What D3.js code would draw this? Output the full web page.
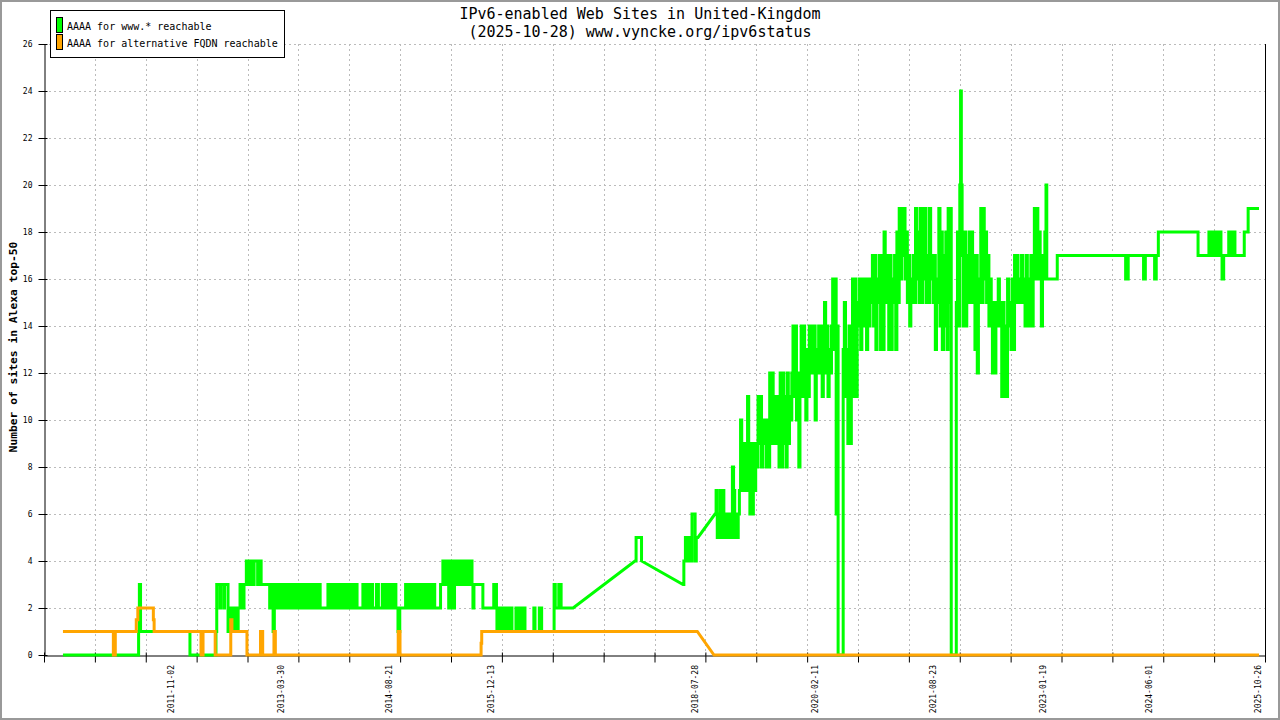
<!DOCTYPE html>
<html>
<head>
<meta charset="utf-8">
<script src="https://cdn.jsdelivr.net/npm/d3@7"></script>
<style>
body { margin: 0; background: #fff; }
text { font-family: "DejaVu Sans Mono", "Liberation Mono", monospace; fill: #000; }
</style>
</head>
<body>
<div id="chart"></div>
<script>
var width = 1280, height = 720;
var plotLeft = 44, plotRight = 1265, plotTop = 44, plotBottom = 655;

var titleLines = ["IPv6-enabled Web Sites in United-Kingdom", "(2025-10-28) www.vyncke.org/ipv6status"];
var yLabel = "Number of sites in Alexa top-50";
var seriesNames = ["AAAA for www.* reachable", "AAAA for alternative FQDN reachable"];
var seriesColors = ["#00ff00", "#ffa500"];

// x range in decimal years, 24 grid steps between the ends
var xDomainYears = [2010.197, 2025.907];
var xGridSteps = 24;
var xLabelDates = ["2011-11-02", "2013-03-30", "2014-08-21", "2015-12-13", "2018-07-28",
                   "2020-02-11", "2021-08-23", "2023-01-19", "2024-06-01", "2025-10-26"];
var yTickValues = [0, 2, 4, 6, 8, 10, 12, 14, 16, 18, 20, 22, 24, 26];

// AAAA for www.* reachable  [decimal year, sites]
var wwwSeries = [
  [2010.441,0],[2011.400,0],[2011.415,1],[2011.425,3],[2011.440,1],[2012.063,1],[2012.076,0],[2012.397,0],
  [2012.410,1],[2012.420,3],[2012.445,3],[2012.460,2],[2012.470,3],[2012.500,3],[2012.510,2],[2012.520,3],
  [2012.550,3],[2012.565,1],[2012.580,2],[2012.590,1],[2012.605,2],[2012.620,1],[2012.635,2],[2012.650,1],
  [2012.665,2],[2012.680,1],[2012.695,2],[2012.710,2],[2012.719,3],[2012.740,3],[2012.755,2],[2012.770,3],
  [2012.790,3],[2012.800,4],[2012.820,4],[2012.835,3],[2012.850,4],[2012.870,4],[2012.885,3],[2012.900,4],
  [2012.930,4],[2012.945,3],[2012.960,4],[2012.980,4],[2012.990,3],[2013.054,3],
  [2013.075,3],[2013.100,2],[2013.125,3],[2013.144,1],[2013.160,2],[2013.175,3],[2013.200,2],[2013.225,3],
  [2013.250,2],[2013.275,3],[2013.300,2],[2013.325,3],[2013.350,2],[2013.375,3],[2013.400,2],[2013.425,3],
  [2013.450,2],[2013.475,3],[2013.500,2],[2013.525,3],[2013.550,2],[2013.575,3],[2013.600,2],[2013.625,3],
  [2013.650,2],[2013.675,3],[2013.700,2],[2013.725,3],[2013.750,2],[2013.775,2],[2013.800,2],[2013.825,2],
  [2013.850,3],[2013.875,2],[2013.900,3],[2013.925,2],[2013.950,3],[2013.975,2],[2014.000,3],[2014.025,2],
  [2014.050,3],[2014.075,2],[2014.100,3],[2014.125,2],[2014.150,3],[2014.175,2],[2014.200,3],[2014.225,2],
  [2014.250,2],[2014.275,2],[2014.300,3],[2014.325,2],[2014.350,3],[2014.375,2],[2014.400,3],[2014.425,2],
  [2014.450,2],[2014.475,3],[2014.500,2],[2014.525,2],[2014.550,3],[2014.575,2],[2014.600,3],[2014.625,2],
  [2014.650,3],[2014.675,2],[2014.700,3],[2014.725,2],[2014.752,1],[2014.775,2],[2014.800,2],[2014.825,2],
  [2014.850,3],[2014.875,2],[2014.900,3],[2014.925,2],[2014.950,3],[2014.975,2],[2015.000,3],[2015.025,2],
  [2015.050,3],[2015.075,2],[2015.100,3],[2015.125,2],[2015.150,3],[2015.175,2],[2015.200,3],[2015.225,2],
  [2015.250,2],[2015.275,2],[2015.300,3],
  [2015.330,4],[2015.355,3],[2015.380,4],[2015.405,2],[2015.430,4],[2015.455,2],[2015.480,4],[2015.505,3],
  [2015.530,4],[2015.555,3],[2015.580,4],[2015.605,3],[2015.630,4],[2015.655,3],[2015.680,4],[2015.705,3],
  [2015.717,2],[2015.730,3],[2015.833,3],[2015.845,2],[2015.974,2],[2015.985,3],[2016.010,3],[2016.020,2],
  [2016.026,1],[2016.045,2],[2016.070,1],[2016.095,2],[2016.120,1],[2016.145,2],[2016.170,1],[2016.195,2],
  [2016.219,1],[2016.257,1],[2016.270,2],[2016.295,1],[2016.320,2],[2016.345,1],[2016.370,2],[2016.386,1],
  [2016.489,1],[2016.500,2],[2016.515,1],[2016.560,1],[2016.570,2],[2016.590,2],[2016.600,1],[2016.643,1],
  [2016.746,1],[2016.760,3],[2016.775,2],[2016.810,2],[2016.820,3],[2016.835,2],[2016.840,3],[2016.850,2],
  [2017.004,2],[2017.801,4],[2017.815,5],[2017.870,5],[2017.885,4],[2018.419,3],[2018.430,4],[2018.450,5],
  [2018.470,4],[2018.490,5],[2018.510,4],[2018.535,6],[2018.560,6],[2018.575,4],[2018.590,5],[2018.612,5],
  [2018.831,6],[2018.845,7],[2018.860,5],[2018.875,6],[2018.890,5],[2018.900,7],[2018.915,5],[2018.930,7],
  [2018.945,5],[2018.960,6],[2018.975,5],[2018.990,6],[2019.005,5],[2019.020,6],[2019.040,5],[2019.055,8],
  [2019.070,7],[2019.085,5],[2019.100,6],[2019.115,5],[2019.130,6],[2019.145,7],[2019.160,10],[2019.175,7],
  [2019.190,9],[2019.205,7],[2019.220,9],[2019.235,7],[2019.250,11],[2019.265,8],[2019.280,6],[2019.295,9],
  [2019.310,6],[2019.325,9],[2019.340,7],[2019.355,9],[2019.370,8],[2019.385,11],[2019.400,9],[2019.415,11],
  [2019.430,8],[2019.445,10],[2019.460,9],[2019.475,10],[2019.490,8],[2019.505,10],[2019.520,8],[2019.535,12],
  [2019.550,9],[2019.565,12],[2019.580,10],[2019.595,9],[2019.610,11],[2019.625,9],[2019.640,11],[2019.655,8],
  [2019.670,12],[2019.685,8],[2019.700,12],[2019.715,9],[2019.730,11],[2019.745,8],[2019.760,12],[2019.775,9],
  [2019.790,11],[2019.805,10],[2019.820,12],[2019.835,14],[2019.850,11],[2019.865,14],[2019.880,10],[2019.895,12],
  [2019.910,8],[2019.925,11],[2019.940,14],[2019.955,11],[2019.970,14],[2019.985,12],[2020.000,10],[2020.015,13],
  [2020.030,11],[2020.045,14],[2020.060,12],[2020.075,14],[2020.090,12],[2020.105,14],[2020.120,10],[2020.135,13],
  [2020.150,12],[2020.165,14],[2020.180,12],[2020.195,14],[2020.210,11],[2020.225,13],[2020.240,15],[2020.255,12],
  [2020.270,14],[2020.285,11],[2020.300,13],[2020.315,12],[2020.330,14],[2020.345,16],[2020.360,13],[2020.375,16],
  [2020.390,6],[2020.405,14],[2020.415,0],[2020.470,0],[2020.480,13],[2020.495,15],[2020.510,11],[2020.525,13],
  [2020.540,9],[2020.555,14],[2020.570,9],[2020.585,13],[2020.600,16],[2020.615,11],[2020.630,16],[2020.645,11],
  [2020.660,15],[2020.675,14],[2020.690,16],[2020.705,13],[2020.720,16],[2020.735,14],[2020.750,16],[2020.765,15],
  [2020.780,13],[2020.795,16],[2020.810,14],[2020.825,16],[2020.840,15],[2020.855,17],[2020.870,14],[2020.885,17],
  [2020.900,13],[2020.915,16],[2020.930,15],[2020.945,17],[2020.960,13],[2020.975,17],[2020.990,13],[2021.005,18],
  [2021.020,15],[2021.035,17],[2021.050,16],[2021.065,13],[2021.080,17],[2021.095,13],[2021.110,16],[2021.125,15],
  [2021.140,17],[2021.155,13],[2021.170,18],[2021.185,15],[2021.200,19],[2021.215,16],[2021.230,19],[2021.245,17],
  [2021.260,19],[2021.275,16],[2021.290,18],[2021.305,15],[2021.320,17],[2021.335,14],[2021.350,16],[2021.365,15],
  [2021.380,17],[2021.395,15],[2021.410,19],[2021.425,16],[2021.440,18],[2021.455,15],[2021.470,19],[2021.485,15],
  [2021.500,19],[2021.515,16],[2021.530,19],[2021.545,15],[2021.560,17],[2021.575,15],[2021.590,19],[2021.605,16],
  [2021.620,17],[2021.635,15],[2021.650,17],[2021.665,13],[2021.680,16],[2021.695,15],[2021.710,19],[2021.725,14],
  [2021.740,18],[2021.755,13],[2021.770,17],[2021.785,14],[2021.800,18],[2021.815,13],[2021.830,19],[2021.845,15],
  [2021.860,19],[2021.870,0],[2021.925,0],[2021.935,15],[2021.950,18],[2021.965,14],[2021.980,20],[2021.990,24],
  [2022.000,20],[2022.010,17],[2022.025,14],[2022.040,18],[2022.055,14],[2022.070,17],[2022.085,15],[2022.100,18],
  [2022.115,15],[2022.130,18],[2022.145,15],[2022.160,17],[2022.175,13],[2022.190,17],[2022.205,12],[2022.220,16],
  [2022.235,15],[2022.250,19],[2022.265,15],[2022.280,19],[2022.295,16],[2022.310,18],[2022.325,15],[2022.340,17],
  [2022.355,14],[2022.370,16],[2022.385,14],[2022.400,12],[2022.415,15],[2022.430,12],[2022.445,15],[2022.460,14],
  [2022.475,16],[2022.490,14],[2022.505,15],[2022.520,11],[2022.535,15],[2022.550,11],[2022.565,14],[2022.580,11],
  [2022.595,16],[2022.610,14],[2022.625,15],[2022.640,13],[2022.655,16],[2022.670,13],[2022.685,17],[2022.700,15],
  [2022.715,17],[2022.730,15],[2022.745,16],[2022.760,15],[2022.775,17],[2022.790,15],[2022.805,16],[2022.820,14],
  [2022.835,17],[2022.850,14],[2022.865,16],[2022.880,14],[2022.895,17],[2022.910,14],[2022.925,16],[2022.940,19],
  [2022.955,16],[2022.970,19],[2022.985,16],[2023.000,18],[2023.015,16],[2023.030,14],[2023.045,17],[2023.060,16],
  [2023.075,18],[2023.090,20],[2023.100,16],[2023.225,16],[2023.235,17],[2024.106,17],[2024.115,16],[2024.140,16],
  [2024.148,17],[2024.338,17],[2024.345,16],[2024.360,16],[2024.368,17],[2024.479,17],[2024.487,16],[2024.500,16],
  [2024.508,17],[2024.525,17],[2024.535,18],[2025.032,18],[2025.045,17],[2025.174,17],[2025.185,18],[2025.195,17],
  [2025.210,18],[2025.220,17],[2025.235,18],[2025.250,17],[2025.265,18],[2025.280,17],[2025.295,18],[2025.310,17],
  [2025.325,18],[2025.340,17],[2025.354,16],[2025.375,17],[2025.430,17],[2025.440,18],[2025.455,17],[2025.470,18],
  [2025.485,17],[2025.500,18],[2025.520,17],[2025.624,17],[2025.640,18],[2025.675,18],[2025.690,19],[2025.830,19]
];

// AAAA for alternative FQDN reachable  [decimal year, sites]
var fqdnSeries = [
  [2010.441,1],[2011.080,1],[2011.090,0],[2011.105,0],[2011.115,1],[2011.375,1],[2011.385,1.5],[2011.405,2],
  [2011.595,2],[2011.605,1.5],[2011.615,1],[2012.210,1],[2012.218,0],[2012.236,0],[2012.244,1],[2012.384,1],
  [2012.400,0],[2012.585,0],[2012.600,1.5],[2012.615,1],[2012.797,1],[2012.808,0],[2012.975,0],[2012.982,1],
  [2013.003,1],[2013.010,0],[2013.148,0],[2013.155,1],[2013.166,1],[2013.173,0],[2014.748,0],[2014.755,1],
  [2014.770,1],[2014.778,0],[2015.814,0],[2015.822,0.5],[2015.830,1],[2015.845,1],[2018.603,1],[2018.818,0],
  [2025.830,0]
];

function yearToDate(y) {
  var Y = Math.floor(y);
  var a = Date.UTC(Y, 0, 1), b = Date.UTC(Y + 1, 0, 1);
  return new Date(a + (y - Y) * (b - a));
}

// daily samples close together are drawn as steps, long gaps as straight lines
function curveDaily(context) {
  var px, py, started;
  return {
    areaStart: function() {}, areaEnd: function() {},
    lineStart: function() { started = false; },
    lineEnd: function() {},
    point: function(px1, py1) {
      if (!started) { context.moveTo(px1, py1); started = true; }
      else if (px1 - px < 4) { context.lineTo(px1, py); context.lineTo(px1, py1); }
      else context.lineTo(px1, py1);
      px = px1; py = py1;
    }
  };
}

var svg = d3.select("#chart")
  .append("svg")
  .attr("width", width)
  .attr("height", height);

svg.append("rect")
  .attr("x", 1).attr("y", 1)
  .attr("width", width - 2).attr("height", height - 2)
  .style("fill", "#fff")
  .style("stroke", "#999")
  .style("stroke-width", 2);

var x = d3.scaleUtc()
  .domain(xDomainYears.map(yearToDate))
  .range([plotLeft, plotRight]);

var y = d3.scaleLinear()
  .domain([0, 26])
  .range([plotBottom, plotTop]);

var t0 = x.domain()[0].getTime(), t1 = x.domain()[1].getTime();
var xGrid = d3.range(xGridSteps + 1).map(function(i) { return new Date(t0 + i * (t1 - t0) / xGridSteps); });

// grid
svg.append("g").selectAll("line").data(yTickValues.filter(function(d) { return d > 0; }))
  .enter().append("line")
  .attr("x1", plotLeft).attr("x2", plotRight)
  .attr("y1", function(d) { return y(d) + 0.5; }).attr("y2", function(d) { return y(d) + 0.5; })
  .style("stroke", "#bbb").style("stroke-dasharray", "2,3");

svg.append("g").selectAll("line").data(xGrid.slice(1, -1))
  .enter().append("line")
  .attr("x1", function(d) { return Math.round(x(d)) + 0.5; }).attr("x2", function(d) { return Math.round(x(d)) + 0.5; })
  .attr("y1", plotTop).attr("y2", plotBottom)
  .style("stroke", "#bbb").style("stroke-dasharray", "2,3");

// axes
var yAxis = svg.append("g")
  .attr("transform", "translate(" + (plotLeft + 0.5) + ",0)")
  .call(d3.axisLeft(y).tickValues(yTickValues).tickSize(6).tickSizeOuter(0));
yAxis.select(".domain").style("stroke", "#000");
yAxis.selectAll(".tick line").attr("x2", -6).attr("x1", 3).style("stroke", "#000");
yAxis.selectAll(".tick text")
  .attr("x", -12)
  .style("font-family", "'DejaVu Sans Mono', monospace")
  .style("font-size", "8px");

var xAxis = svg.append("g")
  .attr("transform", "translate(0," + (plotBottom + 0.5) + ")")
  .call(d3.axisBottom(x).tickValues(xGrid).tickFormat("").tickSize(7).tickSizeOuter(0));
xAxis.select(".domain").style("stroke", "#000");
xAxis.selectAll(".tick line").attr("y1", -3).style("stroke", "#000");

svg.append("line")
  .attr("x1", plotRight + 0.5).attr("x2", plotRight + 0.5)
  .attr("y1", plotTop).attr("y2", plotBottom)
  .style("stroke", "#000");

var parseDate = d3.utcParse("%Y-%m-%d");
svg.append("g").selectAll("text").data(xLabelDates)
  .enter().append("text")
  .attr("transform", function(d) { return "translate(" + (x(parseDate(d)) + 3) + ",665) rotate(-90)"; })
  .attr("text-anchor", "end")
  .style("font-size", "8px")
  .text(function(d) { return d; });

// series
var line = d3.line()
  .x(function(d) { return x(yearToDate(d[0])); })
  .y(function(d) { return y(d[1]); })
  .curve(curveDaily);

svg.append("path")
  .datum(wwwSeries)
  .attr("d", line)
  .style("fill", "none")
  .style("stroke", seriesColors[0])
  .style("stroke-width", 3);

svg.append("path")
  .datum(fqdnSeries)
  .attr("d", line)
  .style("fill", "none")
  .style("stroke", seriesColors[1])
  .style("stroke-width", 3);

// titles
svg.selectAll(".title").data(titleLines)
  .enter().append("text")
  .attr("class", "title")
  .attr("x", 640)
  .attr("y", function(d, i) { return 19 + i * 18; })
  .attr("text-anchor", "middle")
  .style("font-size", "15px")
  .text(function(d) { return d; });

svg.append("text")
  .attr("transform", "translate(16.5,347) rotate(-90)")
  .attr("text-anchor", "middle")
  .style("font-size", "11.3px")
  .style("font-weight", "bold")
  .text(yLabel);

// legend
var legend = svg.append("g");
legend.append("rect")
  .attr("x", 50.5).attr("y", 10.5)
  .attr("width", 234).attr("height", 47)
  .style("fill", "#fff").style("stroke", "#000");

legend.selectAll(".sw").data(seriesNames)
  .enter().append("rect")
  .attr("x", 56.5)
  .attr("y", function(d, i) { return 17.5 + i * 17; })
  .attr("width", 6).attr("height", 15)
  .style("fill", function(d, i) { return seriesColors[i]; })
  .style("stroke", "#000");

legend.selectAll(".lt").data(seriesNames)
  .enter().append("text")
  .attr("x", 67)
  .attr("y", function(d, i) { return 30 + i * 17; })
  .style("font-size", "10px")
  .text(function(d) { return d; });
</script>
</body>
</html>
